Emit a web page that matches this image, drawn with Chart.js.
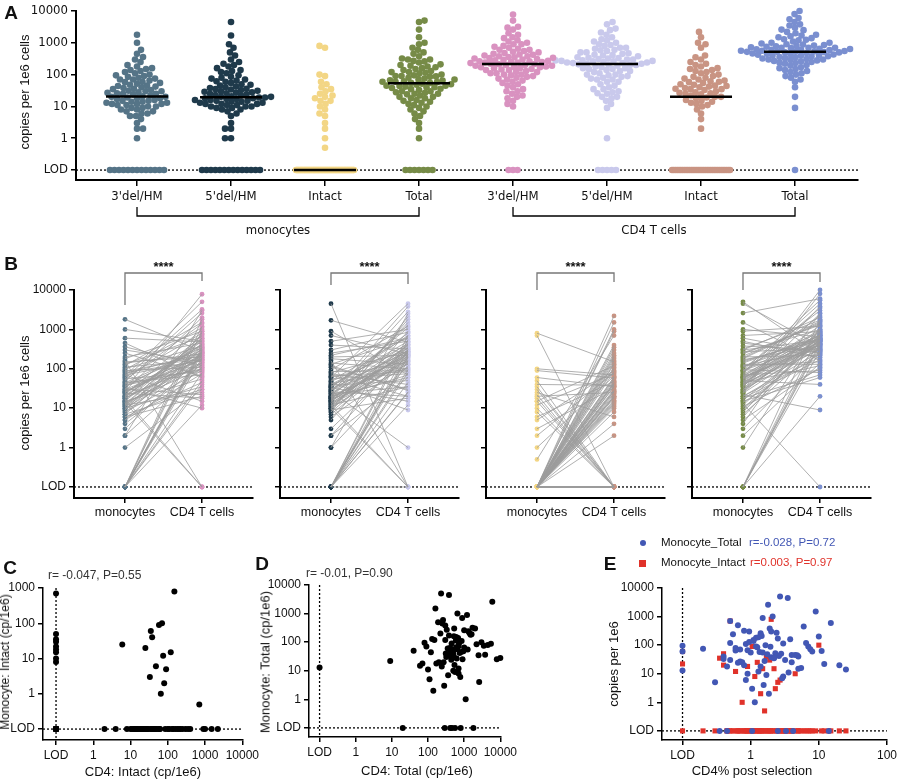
<!DOCTYPE html>
<html><head><meta charset="utf-8">
<script src="https://cdn.jsdelivr.net/npm/chart.js@4.4.1/dist/chart.umd.min.js"></script>
<style>
body{margin:0;background:#fff;width:900px;height:780px;position:relative;overflow:hidden;font-family:'Liberation Sans',Arial,sans-serif}
canvas{position:absolute}
.t{position:absolute;white-space:nowrap;transform:translate(-50%,-50%);line-height:1}
.l{transform:translate(0,-50%)}
</style></head><body>
<script>
// ---------- DATA (0 = below limit of detection, "LOD") ----------
const categoriesA = ["3'del/HM","5'del/HM","Intact","Total","3'del/HM","5'del/HM","Intact","Total"];
const groupLabels = ["monocytes","CD4 T cells"];
const pairLabels = ["monocytes","CD4 T cells"];
const logTicks = [0.1,1,10,100,1000,10000];
const mono3 = [25,8,120,0,40,15,300,6, 60,12,0,35,2,90,18,450, 22,0,7,150,30,10,1000,45, 5,70,0,20,14,200,3,55, 28,9,0,110,16,38,1800,12, 80,0,25,6,140,19,33,4, 65,11,0,250,21,8,95,42, 0,17,130,27,10,600,13,48, 7,0,36,180,24,11,75,2, 52,15,0,30,9,360,20,1, 85,0,14,44,160,26,12,5, 0,58,18,100,31,13,0,70];
const mono5 = [18,0,95,12,30,250,6,45, 0,15,70,22,1,140,10,38, 500,8,0,25,60,14,4500,20, 11,0,35,180,16,3,85,27, 9,400,0,19,50,13,2,120, 0,28,17,75,7,220,33,1, 24,0,13,900,40,18,5,65, 15,110,0,29,10,1700,21,8, 0,55,16,300,26,12,0,42, 19,2,80,0,34,160,11,23, 700,14,0,48,9,31,130,17, 0,20,62,12,0,36,200,10];
const monoIntact = [0,0,800,0,0,0,20,0, 0,5,0,0,0,60,0,0, 15,0,0,0,0.5,0,0,100, 0,0,0,30,0,0,10,0, 0,0,2,0,0,0,40,0, 0,25,0,0,0,8,0,0, 1,0,0,0,700,0,0,0, 18,0,0,50,0,0,0,12, 0,0,3,0,0,0,35,0, 0,6,0,0,0,22,0,0, 0,0,90,0,0,0,15,0, 0,0,0,0,0,0,0,0];
const monoTotal = [55,20,300,120,8,900,40,15, 180,0,70,25,2600,60,10,450, 35,150,5,90,28,4500,65,200, 12,50,0,380,22,110,45,3, 75,1000,18,60,240,30,9,130, 0,85,42,500,16,1,95,270, 25,160,58,14,700,38,4,120, 66,0,210,33,1500,48,7,80, 140,20,52,320,11,90,0,40, 100,5000,27,62,190,13,45,2, 300,36,0,72,18,115,55,600, 24,88,170,6,44,260,30,0];
const cd43 = [220,90,1500,40,300,600,150,20, 800,250,12,400,3000,110,180,60, 1000,350,30,200,7800,140,500,70, 260,15,900,120,0,450,210,85, 2000,330,50,170,700,100,280,25, 160,1200,380,45,240,550,10,130, 5000,190,310,65,420,230,1100,95, 270,0,650,175,35,480,140,2600, 320,80,200,900,18,360,250,110, 1400,55,290,170,750,120,430,30, 215,1800,100,340,0,260,600,75, 190,3200,145,380,22,520,240,160];
const cd45 = [230,80,1200,35,280,500,140,9, 700,260,20,450,2500,100,190,50, 1000,340,25,210,4500,150,0,60, 300,12,800,130,380,220,90,1, 1800,320,45,160,650,110,270,28, 0,1100,400,40,250,600,15,120, 3800,200,300,70,420,240,900,85, 260,30,550,180,0,470,130,2100, 310,75,205,850,20,350,230,100, 1300,60,280,160,700,0,410,35, 240,1500,95,330,18,270,580,70, 200,2800,150,0,26,500,220,170];
const cd4Intact = [40,0,150,12,0,300,25,60, 0,90,18,0,2200,35,8,0, 120,0,45,20,700,0,15,70, 0,30,200,0,10,55,0,400, 22,0,80,1000,0,16,38,0, 130,6,0,50,250,0,28,0, 65,0,14,180,0,35,1500,0, 0,100,24,0,42,2,0,75, 160,0,33,11,0,85,0,20, 0,48,350,0,19,0,110,27, 900,0,58,0,13,140,0,36, 0,26,220,0,4,62,0,44];
const cd4Total = [550,200,2000,150,700,1200,400,60, 1500,800,90,900,6000,350,500,250, 2500,600,110,450,10000,380,1000,220, 700,40,1800,300,9,850,480,280, 3500,650,170,420,1300,320,560,130, 460,2200,750,190,540,1100,80,330, 8000,520,640,240,880,500,2600,300, 600,20,1400,430,160,950,360,4500, 680,270,510,1700,100,720,560,310, 3000,230,620,400,1600,0,820,140, 530,3800,290,700,70,590,1250,260, 440,5500,380,780,120,1000,520,410];
const cd4pct = [1,0.8,2,0.5,3,1.5,0.4,5, 1.2,2.5,0.7,4,1.8,0,0.9,6, 2.2,1.1,0.3,7,1.6,3.5,0.6,10, 1.3,2.8,0.45,1.9,12,0.85,4.5,1.05, 0.2,2.1,1.4,8,0.55,3.2,1.7,0.95, 14,1.25,2.6,0.65,5.5,1.15,0,2.4, 0.75,3.8,1.35,25,0.5,2,1.55,6.5, 0.9,4.2,1.45,0.4,9,1.75,2.9,0.6, 1.1,20,2.3,0.8,3.6,1.2,0.35,5, 1.65,2.7,0.7,11,1.3,0,4,1.85, 0.95,2.2,1.05,7.5,0.45,3,1.5,15, 0.65,1.95,2.5,0.85,4.8,1.4,0.5,3.3];
const seriesA = [mono3,mono5,monoIntact,monoTotal,cd43,cd45,cd4Intact,cd4Total];
const colorsA = ['#557487','#1f3a4b','#f3d685','#768b47','#d992c0','#c9c9ec','#c99483','#7a8fd0'];
const pairsB = [[0,4],[1,5],[2,6],[3,7]];
const statsText = ["r= -0.047, P=0.55","r= -0.01, P=0.90","r=-0.028, P=0.72","r=0.003, P=0.97"];
const LOD = 0.1;
const lv = v => v>0 ? v : LOD;

// ---------- helpers ----------
const FONT = "'Liberation Sans', Arial, sans-serif";
const NARROW = "'Liberation Sans Narrow','DejaVu Sans Condensed','Liberation Sans',Arial";
function txt(s,x,y,o={}){
  const d=document.createElement('div'); d.className='t'+(o.left?' l':''); d.textContent=s;
  d.style.left=x+'px'; d.style.top=y+'px'; d.style.fontSize=(o.size||13)+'px';
  if(o.bold) d.style.fontWeight='bold'; d.style.color=o.color||'#111';
  if(o.family) d.style.fontFamily=o.family;
  if(o.rot) d.style.transform='translate(-50%,-50%) rotate(-90deg)';
  document.body.appendChild(d);
}
function makeChart(box, area, cfg){
  const c=document.createElement('canvas'); c.width=box.w; c.height=box.h;
  c.style.left=box.l+'px'; c.style.top=box.t+'px'; document.body.appendChild(c);
  cfg.options.responsive=false; cfg.options.animation=false;
  cfg.options.layout={padding:{top:area.t-box.t,right:box.l+box.w-area.r,left:0,bottom:0}};
  cfg.options.plugins=Object.assign({legend:{display:false},tooltip:{enabled:false}},cfg.options.plugins||{});
  cfg.options.scales.x.afterFit=s=>{s.height=box.t+box.h-area.b};
  cfg.options.scales.y.afterFit=s=>{s.width=area.l-box.l};
  return new Chart(c,cfg);
}
function logAxis(min,max,show,size,bw,fam){
  return {type:'logarithmic',min,max,
    afterBuildTicks:s=>{s.ticks=logTicks.filter(v=>v<=max+1e-9&&v>=min).map(v=>({value:v}))},
    ticks:{display:show,color:'#111',font:{size,family:fam||FONT},padding:3,autoSkip:false,maxRotation:0,
      callback:v=>v===LOD?'LOD':String(v)},
    grid:{display:true,drawOnChartArea:false,drawTicks:true,tickLength:5,color:'#000',lineWidth:1.5},
    border:{display:true,color:'#000',width:bw}};
}
function dotted(ctx,x1,y1,x2,y2){ctx.save();ctx.strokeStyle='#000';ctx.lineWidth=1.3;ctx.setLineDash([2,2]);
  ctx.beginPath();ctx.moveTo(x1,y1);ctx.lineTo(x2,y2);ctx.stroke();ctx.restore();}
function median(a){const s=a.map(lv).sort((p,q)=>p-q);const n=s.length;return n%2?s[(n-1)/2]:Math.sqrt(s[n/2-1]*s[n/2]);}

// beeswarm offsets (layout only, in pixels -> category units)
function swarm(vals,r,decPx,unit){
  const out=new Array(vals.length).fill(0), placed=[];
  const det=vals.map((v,i)=>({v,i})).filter(o=>o.v>0).sort((a,b)=>a.v-b.v);
  const d=2*r*0.85; let flip=1;
  det.forEach(o=>{const y=Math.log10(o.v)*decPx;
    for(let k=0;k<400;k++){let ok=false,x=0;
      for(const sg of [flip,-flip]){x=sg*k*0.5;
        if(placed.every(p=>Math.hypot(p.x-x,p.y-y)>=d)){ok=true;break;}}
      if(ok){placed.push({x,y});out[o.i]=x/unit;flip=-flip;break;}}
  });
  const z=vals.map((v,i)=>i).filter(i=>!(vals[i]>0)); const n=z.length;
  const w=Math.min(58,(n-1)*4.5);
  z.forEach((i,j)=>{out[i]=n===1?0:(-w/2+w*j/(n-1))/unit;});
  return out;
}

// ---------- Panel A ----------
(function(){
  const areaA={l:76,t:11,r:858,b:180}, unitPx=94;
  const datasets=seriesA.map((vals,c)=>{const off=swarm(vals,3.3,32,unitPx);
    return {data:vals.map((v,i)=>({x:c+off[i],y:lv(v)})),backgroundColor:colorsA[c],borderWidth:0,pointRadius:3.3,clip:false};});
  const meds=seriesA.map(median);
  makeChart({l:0,t:0,w:900,h:250},areaA,{type:'scatter',data:{datasets},
    options:{scales:{
      x:{type:'linear',min:-0.649,max:7.67,afterBuildTicks:s=>{s.ticks=categoriesA.map((_,i)=>({value:i}))},
        ticks:{color:'#111',font:{size:13,family:NARROW},padding:3,maxRotation:0,autoSkip:false,callback:v=>categoriesA[v]},
        grid:{display:true,drawOnChartArea:false,tickLength:6,color:'#000',lineWidth:1.5},border:{color:'#000',width:2}},
      y:logAxis(0.0487,10000,true,13,2,NARROW)}},
    plugins:[{id:'a',beforeDatasetsDraw(ch){const y=ch.scales.y;
        dotted(ch.ctx,ch.chartArea.left,y.getPixelForValue(LOD),ch.chartArea.right,y.getPixelForValue(LOD));},
      afterDatasetsDraw(ch){const ctx=ch.ctx,x=ch.scales.x,y=ch.scales.y;
        ctx.save();ctx.strokeStyle='#000';ctx.lineWidth=2.5;
        meds.forEach((m,c)=>{const px=x.getPixelForValue(c),py=y.getPixelForValue(m);
          ctx.beginPath();ctx.moveTo(px-31,py);ctx.lineTo(px+31,py);ctx.stroke();});
        ctx.lineWidth=1.3;
        [[0,3],[4,7]].forEach(([a,b])=>{const xa=x.getPixelForValue(a),xb=x.getPixelForValue(b);
          ctx.beginPath();ctx.moveTo(xa,207);ctx.lineTo(xa,216);ctx.lineTo(xb,216);ctx.lineTo(xb,207);ctx.stroke();});
        ctx.restore();}}]});
  const xs=[(137+419)/2,(513+795)/2];
  groupLabels.forEach((g,i)=>txt(g,xs[i],229,{size:13,family:NARROW}));
  txt('A',11,12,{size:19,bold:true});
  txt('copies per 1e6 cells',24,92,{size:13,rot:true});
})();

// ---------- Panel B ----------
const axB=[74,280,486,692];
const legB=[[305,281],[285,284],[290,282],[290,282]];
pairsB.forEach(([m,c],k)=>{
  const ax=axB[k], mv=seriesA[m], cv=seriesA[c];
  const lineData=[]; mv.forEach((v,i)=>{lineData.push({x:0,y:lv(v)},{x:1,y:lv(cv[i])},{x:0.5,y:null});});
  const datasets=[
    {data:lineData,showLine:true,spanGaps:false,borderColor:'#9c9c9c',borderWidth:0.8,pointRadius:0,clip:false},
    {data:mv.map(v=>({x:0,y:lv(v)})),backgroundColor:colorsA[m],pointRadius:2.4,borderWidth:0,clip:false},
    {data:cv.map(v=>({x:1,y:lv(v)})),backgroundColor:colorsA[c],pointRadius:2.4,borderWidth:0,clip:false}];
  makeChart({l:ax-74,t:255,w:265,h:265},{l:ax,t:290,r:ax+179,b:498},{type:'scatter',data:{datasets},
    options:{scales:{
      x:{type:'linear',min:-0.662,max:1.662,afterBuildTicks:s=>{s.ticks=[{value:0},{value:1}]},
        ticks:{color:'#111',font:{size:12.5,family:FONT},padding:2,maxRotation:0,autoSkip:false,callback:v=>pairLabels[v]},
        grid:{display:true,drawOnChartArea:false,tickLength:5,color:'#000',lineWidth:1.5},border:{color:'#000',width:2}},
      y:logAxis(0.0525,10000,k===0,12,2)}},
    plugins:[{id:'b',beforeDatasetsDraw(ch){const y=ch.scales.y;
        dotted(ch.ctx,ch.chartArea.left,y.getPixelForValue(LOD),ch.chartArea.right,y.getPixelForValue(LOD));},
      afterDraw(ch){const ctx=ch.ctx,x=ch.scales.x;const x0=x.getPixelForValue(0),x1=x.getPixelForValue(1);const top=(273-255);
        ctx.save();ctx.strokeStyle='#777';ctx.lineWidth=1.3;ctx.beginPath();
        ctx.moveTo(x0,legB[k][0]-255);ctx.lineTo(x0,top);ctx.lineTo(x1,top);ctx.lineTo(x1,legB[k][1]-255);ctx.stroke();
        ctx.fillStyle='#111';ctx.font='bold 13px '+FONT;ctx.textAlign='center';ctx.textBaseline='middle';
        ctx.fillText('****',(x0+x1)/2,267-255);ctx.restore();}}]});
});
txt('B',11,263,{size:19,bold:true});
txt('copies per 1e6 cells',24,393,{size:13,rot:true});

// ---------- Panels C, D ----------
function scatterPanel(box,area,xv,yv,xMin,xMax,yMin,yMax,color){
  const ds={data:xv.map((v,i)=>({x:lv(v),y:lv(yv[i])})),backgroundColor:color,pointRadius:3,borderWidth:0,clip:false};
  return makeChart(box,area,{type:'scatter',data:{datasets:[ds]},options:{scales:{x:logAxis(xMin,xMax,true,12,1.5),y:logAxis(yMin,yMax,true,12,1.5)}},
    plugins:[{id:'d',beforeDatasetsDraw(ch){const x=ch.scales.x,y=ch.scales.y,a=ch.chartArea;
      dotted(ch.ctx,a.left,y.getPixelForValue(LOD),a.right,y.getPixelForValue(LOD));
      dotted(ch.ctx,x.getPixelForValue(LOD),a.top,x.getPixelForValue(LOD),a.bottom);}}]});
}
scatterPanel({l:0,t:570,w:262,h:210},{l:43,t:588,r:243,b:740},cd4Intact,monoIntact,0.0447,10000,0.049,1000,'#000');
txt('C',10,567,{size:19,bold:true});
txt(statsText[0],48,575,{size:12,left:true,color:'#333'});
txt('Monocyte: Intact (cp/1e6)',5,662,{size:12,rot:true});
txt('CD4: Intact (cp/1e6)',143,771,{size:13});

scatterPanel({l:250,t:570,w:270,h:210},{l:309,t:585,r:507,b:737},cd4Total,monoTotal,0.051,10000,0.048,10000,'#000');
txt('D',262,563,{size:19,bold:true});
txt(statsText[1],306,573,{size:12,left:true,color:'#333'});
txt('Monocyte: Total (cp/1e6)',265,662,{size:13,rot:true});
txt('CD4: Total (cp/1e6)',417,770,{size:13});

// ---------- Panel E ----------
(function(){
  const blue='#4257b4', red='#e0322a';
  const dsT={data:cd4pct.map((v,i)=>({x:lv(v),y:lv(monoTotal[i])})),backgroundColor:blue,pointRadius:3,borderWidth:0,clip:false};
  const dsI={data:cd4pct.map((v,i)=>({x:lv(v),y:lv(monoIntact[i])})),backgroundColor:red,pointStyle:'rect',pointRadius:3.6,borderWidth:0,clip:false};
  makeChart({l:600,t:570,w:300,h:210},{l:662,t:588,r:891,b:740},{type:'scatter',data:{datasets:[dsT,dsI]},
    options:{scales:{x:logAxis(0.05,100,true,12,1.5),y:logAxis(0.048,10000,true,12,1.5)}},
    plugins:[{id:'e',beforeDatasetsDraw(ch){const x=ch.scales.x,y=ch.scales.y,a=ch.chartArea;
      dotted(ch.ctx,a.left,y.getPixelForValue(LOD),a.right,y.getPixelForValue(LOD));
      dotted(ch.ctx,x.getPixelForValue(LOD),a.top,x.getPixelForValue(LOD),a.bottom);}}]});
  const m=document.createElement('div');m.style.cssText=`position:absolute;left:640px;top:540px;width:6px;height:6px;border-radius:50%;background:${blue}`;document.body.appendChild(m);
  const q=document.createElement('div');q.style.cssText=`position:absolute;left:639px;top:560px;width:7px;height:7px;background:${red}`;document.body.appendChild(q);
  txt('Monocyte_Total',661,543,{size:11.5,left:true});
  txt(statsText[2],749,543,{size:11.5,left:true,color:blue});
  txt('Monocyte_Intact',661,563,{size:11.5,left:true});
  txt(statsText[3],750,563,{size:11.5,left:true,color:red});
  txt('E',610,563,{size:19,bold:true});
  txt('copies per 1e6',613,664,{size:13,rot:true});
  txt('CD4% post selection',752,770,{size:13});
})();
</script>
</body></html>
